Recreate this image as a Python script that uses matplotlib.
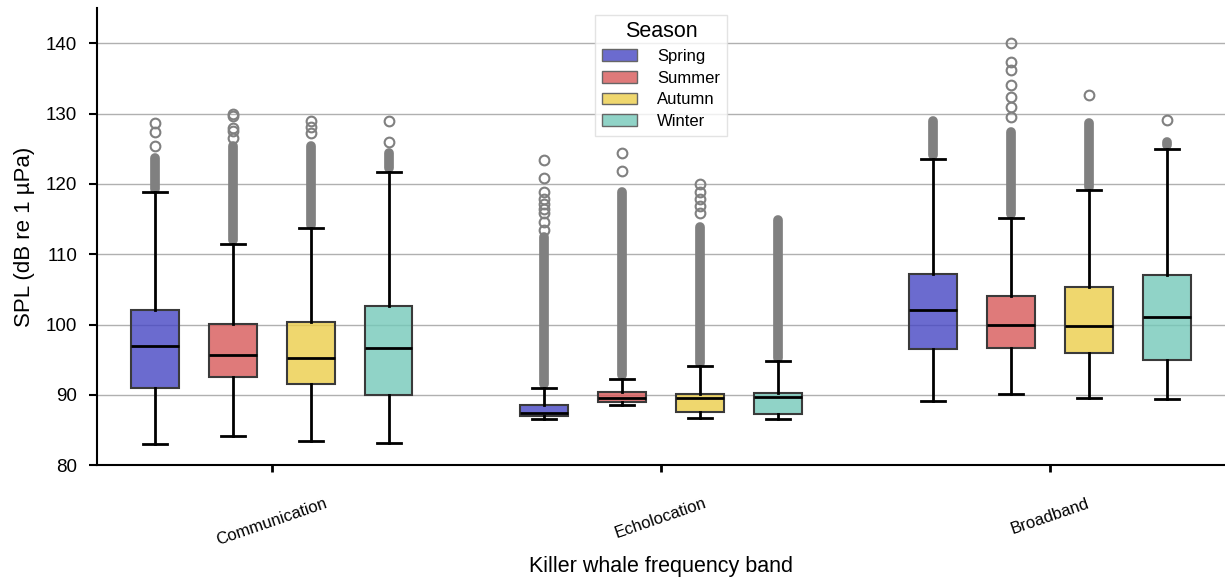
import numpy as np
import matplotlib.pyplot as plt
from matplotlib.patches import Patch

plt.rcParams['font.family'] = ['Liberation Sans', 'DejaVu Sans']

bands = ['Communication', 'Echolocation', 'Broadband']
seasons = ['Spring', 'Summer', 'Autumn', 'Winter']
colors = ['#4646c4', '#d85959', '#ecce4a', '#74c9b9']

# box stats per band (rows) and season (cols)
med = [[97.0, 95.6, 95.3, 96.7],
       [87.35, 89.6, 89.6, 89.7],
       [102.0, 100.0, 99.8, 101.1]]
q1 = [[91.0, 92.5, 91.6, 90.0],
      [87.0, 89.0, 87.5, 87.3],
      [96.5, 96.6, 95.9, 95.0]]
q3 = [[102.1, 100.1, 100.3, 102.6],
      [88.5, 90.4, 90.1, 90.2],
      [107.25, 104.1, 105.3, 107.05]]
whislo = [[83.0, 84.2, 83.4, 83.1],
          [86.5, 88.5, 86.7, 86.5],
          [89.1, 90.1, 89.6, 89.4]]
whishi = [[118.8, 111.5, 113.7, 121.7],
          [91.0, 92.3, 94.1, 94.75],
          [123.6, 115.2, 119.1, 125.0]]
# top of the dense run of outliers above each upper whisker
dense_top = [[124.3, 126.0, 126.0, 125.0],
             [113.0, 119.5, 114.4, 115.5],
             [129.5, 128.0, 129.3, 126.5]]
# separate outliers above the dense run
sparse = [
    [[125.4, 127.4, 128.7], [126.5, 127.5, 128.0, 129.6, 130.0], [127.2, 128.1, 129.0], [126.0, 129.0]],
    [[113.5, 114.6, 115.8, 116.5, 117.2, 117.8, 118.9, 120.8, 123.4], [121.9, 124.4],
     [115.8, 116.8, 117.9, 118.9, 120.0], []],
    [[], [129.5, 130.9, 132.3, 134.0, 136.2, 137.3, 140.0], [132.7], [129.1]],
]

fig, ax = plt.subplots(figsize=(12.25, 5.8), dpi=100)
fig.subplots_adjust(left=0.079, right=1.0, bottom=0.198, top=0.986)

offsets = [-0.3, -0.1, 0.1, 0.3]
flier_col = '#808080'

for i in range(len(bands)):
    for j in range(len(seasons)):
        x = i + offsets[j]
        stats = dict(med=med[i][j], q1=q1[i][j], q3=q3[i][j],
                     whislo=whislo[i][j], whishi=whishi[i][j], fliers=[])
        bp = ax.bxp([stats], positions=[x], widths=0.123, patch_artist=True,
                    showfliers=False, manage_ticks=False,
                    boxprops=dict(facecolor=colors[j], edgecolor='#3a3a3a', linewidth=1.5),
                    medianprops=dict(color='black', linewidth=2),
                    whiskerprops=dict(color='black', linewidth=2),
                    capprops=dict(color='black', linewidth=2))
        bp['boxes'][0].set_facecolor(colors[j] + 'cc')
        ax.plot([x, x], [whishi[i][j] + 0.5, dense_top[i][j] - 0.6], color=flier_col,
                lw=7, solid_capstyle='round', zorder=1)
        if sparse[i][j]:
            ax.plot(np.full(len(sparse[i][j]), x), sparse[i][j], 'o', mfc='none',
                    mec=flier_col, ms=7, mew=1.5, zorder=1)

ax.set_xlim(-0.45, 2.45)
ax.set_ylim(80, 145)
ax.set_yticks([80, 90, 100, 110, 120, 130, 140])
ax.set_xticks([0, 1, 2])
ax.set_xticklabels(bands, rotation=19, fontsize=12)
ax.yaxis.grid(True, color='#b0b0b0', lw=1)
ax.set_axisbelow(True)
for s in ['top', 'right']:
    ax.spines[s].set_visible(False)
for s in ['left', 'bottom']:
    ax.spines[s].set_linewidth(1.5)
ax.tick_params(axis='y', length=6, width=1.5, labelsize=13.5, pad=8)
ax.tick_params(axis='x', length=5, width=2, pad=17)

ax.set_ylabel('SPL (dB re 1 µPa)', fontsize=16, labelpad=8)
ax.set_xlabel('Killer whale frequency band', fontsize=15.5, labelpad=6)

handles = [Patch(facecolor=c + 'cc', edgecolor='#666666', label=s) for c, s in zip(colors, seasons)]
leg = ax.legend(handles=handles, title='Season', loc='upper center', fontsize=12,
                title_fontsize=15.5, frameon=True, edgecolor='#dddddd', fancybox=False,
                borderaxespad=0.4, handlelength=2.1, labelspacing=0.4, handletextpad=1.2)

plt.savefig('out.png')
